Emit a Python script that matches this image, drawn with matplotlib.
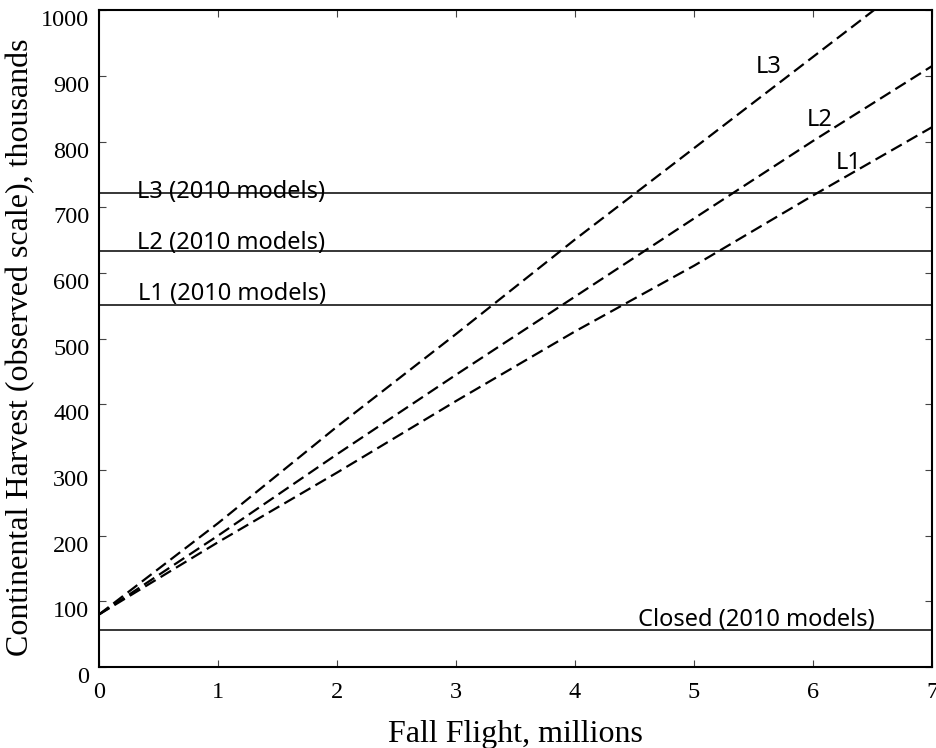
import matplotlib
matplotlib.use("Agg")
import matplotlib.pyplot as plt
from matplotlib.transforms import ScaledTranslation

# Data
fall_flight = [0, 1, 2, 3, 4, 5, 6, 7]
harvest_L1 = [80, 190, 296, 405, 511, 611, 718, 822]
harvest_L2 = [80, 200, 324, 445, 564, 683, 801, 915]
harvest_L3 = [80, 219, 366, 507, 651, 790, 929, 1068]
models_2010 = {"Closed": 56, "L1": 551, "L2": 633, "L3": 721}
xticks = [0, 1, 2, 3, 4, 5, 6, 7]
yticks = [0, 100, 200, 300, 400, 500, 600, 700, 800, 900, 1000]

fig = plt.figure(figsize=(9.37, 7.48), dpi=100)
ax = fig.add_axes([0.1057, 0.1083, 0.889, 0.878])

serif = "Liberation Serif"
sans = "Noto Sans"
fs_note = 17

for ys in (harvest_L1, harvest_L2, harvest_L3):
    ax.plot(fall_flight, ys, color="black", lw=1.6, ls=(0, (5.5, 2.6)))

for name, val in models_2010.items():
    ax.axhline(val, color="black", lw=1.1)

# Labels for 2010 model lines
ax.text(0.32, 714, "L3 (2010 models)", family=sans, fontsize=fs_note, va="baseline", ha="left")
ax.text(0.32, 637, "L2 (2010 models)", family=sans, fontsize=fs_note, va="baseline", ha="left")
ax.text(0.33, 559, "L1 (2010 models)", family=sans, fontsize=fs_note, va="baseline", ha="left")
ax.text(4.525, 63, "Closed (2010 models)", family=sans, fontsize=fs_note, va="baseline", ha="left")

# Labels for curves
ax.text(5.52, 905, "L3", family=sans, fontsize=fs_note, va="baseline", ha="left")
ax.text(5.95, 824, "L2", family=sans, fontsize=fs_note, va="baseline", ha="left")
ax.text(6.19, 758, "L1", family=sans, fontsize=fs_note, va="baseline", ha="left")

ax.set_xlim(0, 7)
ax.set_ylim(0, 1000)
ax.set_xticks(xticks)
ax.set_yticks(yticks)
ax.set_xticklabels([str(v) for v in xticks], family=serif, fontsize=17.5)
ax.set_yticklabels([str(v) for v in yticks], family=serif, fontsize=17.5)
ax.tick_params(direction="in", length=5, width=0.8, top=True, right=True, color="#444444")
ax.tick_params(axis="x", pad=11)
ax.tick_params(axis="y", pad=7)

off = ScaledTranslation(0, -8 / 100, fig.dpi_scale_trans)
for lab in ax.get_yticklabels():
    lab.set_transform(lab.get_transform() + off)

for sp in ax.spines.values():
    sp.set_linewidth(1.5)

ax.set_xlabel("Fall Flight, millions", family=serif, fontsize=23, labelpad=12)
ax.set_ylabel("Continental Harvest (observed scale), thousands", family=serif, fontsize=23)
ax.yaxis.set_label_coords(-0.077, 0.487)

fig.savefig("out.png", dpi=100)
